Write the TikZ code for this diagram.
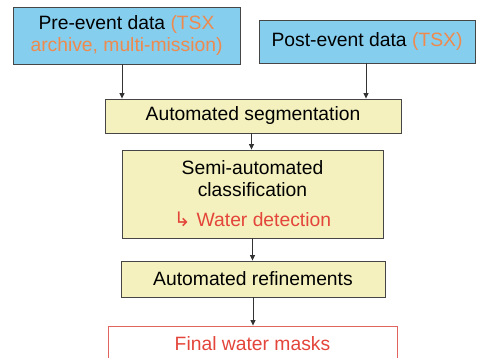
\documentclass[tikz,border=0pt]{standalone}
\usepackage{fontspec}
\setmainfont{Liberation Sans}
\newfontfamily\symfont{DejaVu Sans}
\usetikzlibrary{arrows.meta}
\definecolor{boxblue}{RGB}{134,206,238}
\definecolor{boxyellow}{RGB}{244,241,190}
\definecolor{txtorange}{RGB}{238,138,78}
\definecolor{txtred}{RGB}{228,69,58}
\definecolor{edgegray}{RGB}{70,70,70}
\definecolor{finalred}{RGB}{226,100,96}
\begin{document}
\begin{tikzpicture}[x=1pt,y=1pt,
  every node/.style={font=\fontsize{19.3}{22}\selectfont, align=center, inner sep=0pt},
  bluebox/.style={draw=edgegray, line width=0.9pt, fill=boxblue},
  yelbox/.style={draw=edgegray, line width=0.9pt, fill=boxyellow},
  finalbox/.style={draw=finalred, line width=0.9pt, fill=white},
  arr/.style={draw=black!80, line width=0.8pt, -{Triangle[width=5pt,length=5.5pt]}}]
\useasboundingbox (0,0) rectangle (486,-357);
\node[bluebox, minimum width=227pt, minimum height=57pt] (pre) at (126.5,-35.5)
  {Pre-event data \textcolor{txtorange}{(TSX}\\\textcolor{txtorange}{archive, multi-mission)}};
\node[bluebox, minimum width=216pt, minimum height=43pt] (post) at (367,-41.5)
  {Post-event data \textcolor{txtorange}{(TSX)}};
\node[yelbox, minimum width=296pt, minimum height=34pt] (seg) at (253,-116)
  {Automated segmentation};
\node[yelbox, minimum width=261pt, minimum height=88pt] (cls) at (252.5,-194)
  {Semi-automated\\classification\\[8pt]\textcolor{txtred}{{\symfont\fontsize{20}{20}\selectfont ↳}\hspace{6pt}Water detection}};
\node[yelbox, minimum width=264pt, minimum height=36pt] (ref) at (253,-279)
  {Automated refinements};
\node[finalbox, minimum width=289pt, minimum height=36pt] (fin) at (252.5,-344)
  {\textcolor{txtred}{Final water masks}};
\draw[arr] ([xshift=-4.5pt]pre.south) -- ([xshift=-4.5pt]pre.south |- seg.north);
\draw[arr] ([xshift=-1pt]post.south) -- ([xshift=-1pt]post.south |- seg.north);
\draw[arr] ([xshift=-1.5pt]seg.south) -- ([xshift=-1.5pt]seg.south |- cls.north);
\draw[arr] (cls.south) -- (cls.south |- ref.north);
\draw[arr] (ref.south) -- (ref.south |- fin.north);
\end{tikzpicture}
\end{document}
